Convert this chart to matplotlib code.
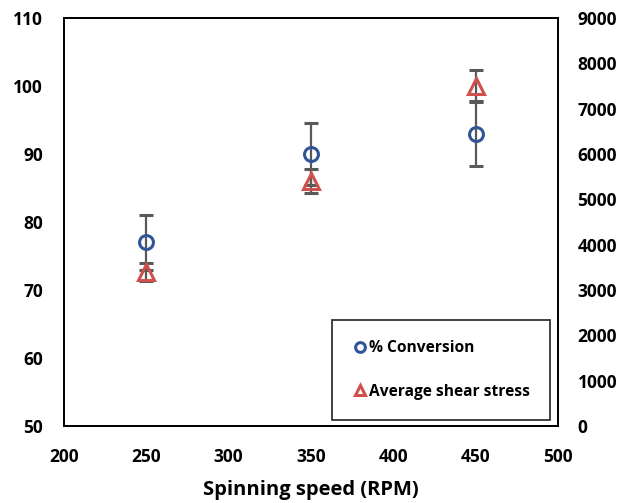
import matplotlib
matplotlib.use('Agg')
import matplotlib.pyplot as plt

# Spinning speed (RPM)
speeds = [250, 350, 450]

# % conversion (left axis)
conversion = [77, 90, 93]
conversion_err = [4, 4.5, 4.8]

# average shear stress (right axis)
shear_stress = [3400, 5400, 7500]
shear_err = [200, 260, 350]

plt.rcParams['font.family'] = ['Open Sans', 'DejaVu Sans']
plt.rcParams['font.weight'] = 'bold'

blue = '#2F5597'
red = '#D0504D'
err_col = '#595959'

fig = plt.figure(figsize=(6.25, 5.03), dpi=100)
ax = fig.add_axes([0.1024, 0.1531, 0.7904, 0.8111])
ax2 = ax.twinx()

h1 = ax.errorbar(speeds, conversion, yerr=conversion_err, fmt='o', ms=10,
                 mfc='none', mec=blue, mew=2.2, ecolor=err_col,
                 elinewidth=1.6, capsize=5, capthick=1.6,
                 label='% Conversion')
h2 = ax2.errorbar(speeds, shear_stress, yerr=shear_err, fmt='^', ms=11,
                  mfc='none', mec=red, mew=2.2, ecolor=err_col,
                  elinewidth=1.6, capsize=5, capthick=1.6,
                  label='Average shear stress')

ax.set_xlim(200, 500)
ax.set_ylim(50, 110)
ax2.set_ylim(0, 9000)
ax.set_xticks(range(200, 501, 50))
ax.set_yticks(range(50, 111, 10))
ax2.set_yticks(range(0, 9001, 1000))

ax.tick_params(axis='x', length=0, labelsize=12.5, pad=16)
ax.tick_params(axis='y', length=0, labelsize=12.5, pad=15)
ax2.tick_params(axis='y', length=0, labelsize=12.5, pad=14)
for a in (ax, ax2):
    for lbl in a.get_xticklabels() + a.get_yticklabels():
        lbl.set_fontweight('bold')
    for s in a.spines.values():
        s.set_linewidth(1.3)
        s.set_color('black')

ax.set_xlabel('Spinning speed (RPM)', fontsize=14.5, fontweight='bold', labelpad=10)

leg = ax2.legend([h1[0], h2[0]], ['% Conversion', 'Average shear stress'],
                 loc='lower right', bbox_to_anchor=(0.984, 0.015),
                 prop={'size': 11.2, 'weight': 'bold'},
                 frameon=True, fancybox=False,
                 borderpad=1.3, labelspacing=1.75, handletextpad=0.1,
                 handlelength=1.0, markerscale=0.7, borderaxespad=0)
leg.get_frame().set_edgecolor('black')
leg.get_frame().set_linewidth(1.3)

fig.savefig('out.png', dpi=100)
